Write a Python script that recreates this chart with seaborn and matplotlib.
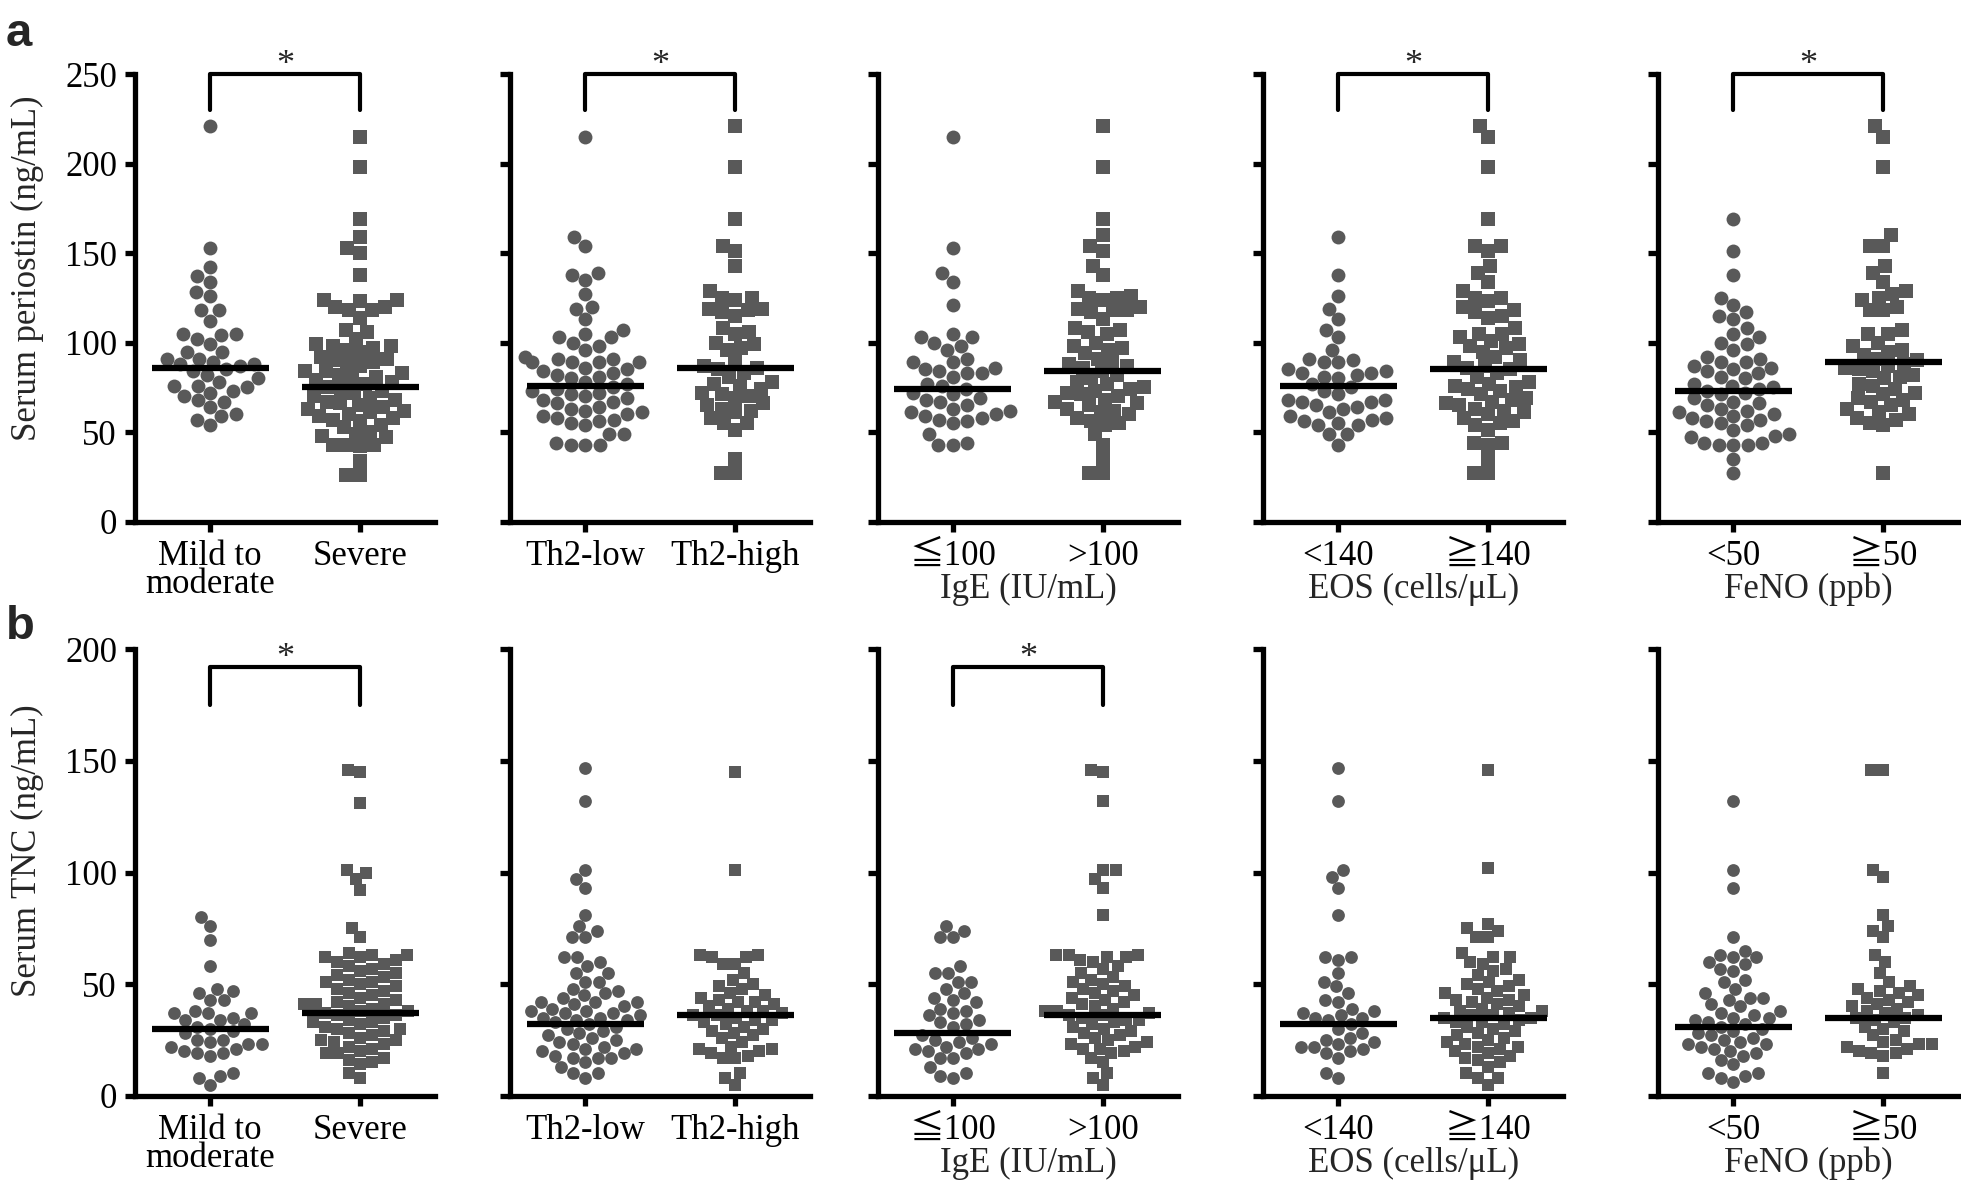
import numpy as np
import pandas as pd
import matplotlib
matplotlib.use('Agg')
import matplotlib.pyplot as plt
import seaborn as sns

sns.set_theme(style="ticks")
plt.rcParams['font.family'] = ['Liberation Serif', 'Noto Sans CJK JP', 'DejaVu Sans']

# ---- data: serum periostin (ng/mL), row a ----
a_mild = [221, 153, 142, 137, 134, 128, 126, 118, 118, 112, 105, 105, 104, 102, 99, 95, 95,
          91, 91, 89, 88, 88, 87, 85, 84, 82, 80, 78, 76, 76, 75, 73, 72, 70, 68, 67, 64,
          60, 59, 57, 54]
a_severe = [215, 198, 169, 159, 153, 150, 138, 124, 124, 123, 120, 120, 118, 118, 114, 107,
            106, 102, 99, 98, 98, 97, 96, 95, 92, 91, 90, 89, 88, 87, 84, 84, 83, 82, 81, 80,
            79, 78, 77, 75, 74, 73, 72, 70, 69, 68, 67, 66, 65, 64, 63, 62, 61, 60, 59, 58,
            57, 56, 54, 53, 50, 49, 48, 47, 43, 43, 43, 42, 34, 26, 26]
a_th2low = [215, 159, 154, 139, 138, 135, 127, 120, 119, 113, 107, 105, 103, 103, 100, 98,
            96, 92, 91, 91, 89, 89, 89, 89, 86, 85, 84, 83, 82, 81, 80, 78, 77, 75, 74, 73,
            72, 71, 70, 69, 68, 67, 66, 64, 63, 62, 61, 60, 59, 58, 57, 56, 55, 54, 49, 49,
            44, 43, 43, 43]
a_th2high = [221, 198, 169, 154, 151, 143, 129, 125, 125, 124, 119, 119, 118, 117, 115, 108,
             106, 105, 100, 99, 97, 96, 90, 87, 86, 85, 83, 81, 78, 77, 76, 74, 72, 71, 70,
             69, 66, 65, 63, 62, 61, 58, 55, 55, 51, 35, 27, 27]
a_ige_low = [215, 153, 139, 134, 121, 105, 103, 103, 100, 98, 96, 91, 89, 89, 86, 85, 84,
             83, 83, 81, 77, 76, 74, 72, 71, 69, 68, 67, 65, 63, 62, 61, 60, 59, 58, 57, 56,
             55, 49, 44, 43, 43]
a_ige_high = [221, 198, 169, 160, 154, 151, 143, 138, 129, 126, 125, 124, 125, 120, 119, 118,
              118, 117, 113, 108, 107, 106, 105, 100, 98, 97, 96, 94, 91, 89, 88, 87, 86, 84,
              82, 80, 78, 77, 75, 74, 73, 72, 71, 70, 68, 67, 66, 65, 63, 62, 61, 60, 58, 56,
              55, 54, 49, 43, 35, 27, 27]
a_eos_low = [159, 138, 126, 119, 113, 107, 103, 96, 90, 89, 89, 91, 85, 84, 83, 83, 82, 81,
             80, 77, 75, 73, 71, 68, 67, 67, 68, 65, 64, 63, 61, 59, 58, 57, 56, 55, 54, 54,
             49, 49, 43]
a_eos_high = [221, 215, 198, 169, 154, 151, 154, 143, 139, 134, 129, 125, 125, 123, 120, 118,
              117, 115, 114, 108, 105, 105, 103, 101, 99, 98, 97, 95, 92, 90, 89, 87, 86, 85,
              83, 81, 78, 77, 76, 75, 74, 73, 71, 69, 68, 67, 66, 65, 63, 62, 61, 60, 58, 56,
              55, 54, 51, 44, 43, 44, 35, 27, 27]
a_feno_low = [169, 151, 138, 125, 121, 115, 113, 117, 108, 105, 103, 100, 99, 96, 92, 89, 89,
              91, 87, 86, 85, 84, 83, 81, 80, 77, 76, 75, 74, 73, 72, 71, 69, 67, 66, 65, 63,
              62, 61, 60, 59, 58, 57, 56, 55, 54, 51, 49, 48, 47, 43, 43, 43, 44, 44, 35, 27]
a_feno_high = [221, 215, 198, 160, 154, 154, 143, 139, 134, 129, 127, 125, 124, 120, 118, 118,
               107, 105, 105, 100, 98, 96, 95, 93, 91, 90, 88, 87, 86, 85, 84, 82, 81, 80, 77,
               76, 74, 72, 71, 69, 68, 67, 65, 63, 61, 60, 58, 57, 55, 54, 27]

# ---- data: serum TNC (ng/mL), row b ----
b_mild = [80, 76, 70, 58, 48, 47, 46, 43, 43, 38, 37, 37, 37, 35, 34, 34, 32, 31, 30, 29, 28,
          25, 25, 24, 23, 23, 22, 21, 20, 19, 19, 18, 10, 9, 8, 5]
b_severe = [146, 145, 131, 101, 100, 97, 92, 75, 71, 64, 63, 63, 62, 62, 61, 60, 59, 58, 57,
            56, 55, 54, 53, 52, 51, 51, 50, 49, 48, 47, 46, 45, 44, 43, 42, 41, 41, 41, 40, 39,
            38, 38, 37, 36, 36, 35, 34, 33, 33, 32, 31, 30, 30, 29, 28, 27, 26, 25, 25, 24,
            23, 22, 21, 20, 19, 19, 17, 16, 15, 14, 10, 8]
b_th2low = [147, 132, 101, 97, 93, 81, 76, 74, 71, 71, 62, 62, 60, 58, 55, 55, 51, 51, 48, 47,
            46, 45, 44, 42, 42, 42, 41, 40, 39, 38, 38, 37, 37, 36, 35, 35, 34, 34, 33, 32, 31,
            30, 29, 28, 27, 26, 25, 24, 23, 22, 21, 21, 20, 19, 18, 17, 17, 17, 15, 13, 10, 10, 8]
b_th2high = [145, 101, 63, 62, 62, 63, 59, 59, 55, 52, 50, 49, 48, 46, 45, 44, 43, 42, 42, 41,
             40, 39, 38, 38, 37, 36, 36, 35, 34, 34, 33, 32, 31, 30, 29, 28, 27, 26, 24, 22,
             21, 21, 20, 19, 18, 17, 17, 10, 8, 5]
b_ige_low = [76, 74, 71, 71, 58, 55, 55, 51, 51, 48, 46, 44, 43, 42, 39, 38, 37, 36, 34, 33,
             32, 31, 27, 26, 25, 24, 23, 22, 21, 21, 20, 19, 17, 17, 13, 10, 9, 8]
b_ige_high = [146, 145, 132, 101, 101, 97, 93, 81, 63, 63, 63, 62, 62, 61, 60, 58, 57, 55, 53,
              52, 51, 50, 49, 48, 47, 46, 45, 44, 43, 42, 41, 40, 39, 38, 38, 37, 36, 36, 35,
              34, 34, 33, 32, 31, 30, 29, 28, 27, 26, 25, 24, 23, 22, 21, 21, 20, 19, 17, 15,
              10, 8, 5]
b_eos_low = [147, 132, 101, 98, 93, 81, 62, 61, 62, 55, 51, 49, 46, 43, 42, 39, 38, 37, 36,
             35, 35, 34, 32, 30, 28, 26, 25, 24, 23, 22, 22, 21, 20, 19, 17, 10, 8]
b_eos_high = [146, 102, 77, 74, 71, 71, 75, 64, 62, 62, 60, 59, 57, 56, 54, 52, 51, 50, 49, 48,
              47, 46, 45, 44, 43, 43, 42, 41, 40, 39, 38, 38, 37, 36, 36, 35, 35, 34, 33, 33,
              32, 31, 30, 29, 28, 27, 26, 25, 24, 23, 22, 22, 21, 20, 19, 18, 17, 16, 15, 13,
              10, 8, 8, 5]
b_feno_low = [132, 101, 93, 71, 65, 63, 62, 62, 60, 59, 57, 56, 52, 51, 48, 46, 44, 44, 43,
              41, 40, 38, 37, 36, 35, 35, 34, 33, 32, 31, 30, 29, 28, 27, 26, 25, 24, 23, 23,
              22, 21, 20, 19, 18, 16, 14, 10, 10, 9, 8, 6]
b_feno_high = [146, 146, 101, 98, 81, 76, 74, 71, 63, 60, 55, 51, 49, 48, 47, 46, 45, 44, 43,
               42, 41, 40, 39, 38, 37, 36, 35, 35, 34, 33, 31, 30, 29, 27, 25, 24, 23, 23, 22,
               21, 20, 19, 19, 18, 10]

categories = [["Mild to\nmoderate", "Severe"], ["Th2-low", "Th2-high"],
              ["≦100", ">100"], ["<140", "≧140"], ["<50", "≧50"]]
group_titles = ["", "", "IgE (IU/mL)", "EOS (cells/μL)", "FeNO (ppb)"]
top_groups = [(a_mild, a_severe), (a_th2low, a_th2high), (a_ige_low, a_ige_high),
              (a_eos_low, a_eos_high), (a_feno_low, a_feno_high)]
bottom_groups = [(b_mild, b_severe), (b_th2low, b_th2high), (b_ige_low, b_ige_high),
                 (b_eos_low, b_eos_high), (b_feno_low, b_feno_high)]
# central horizontal bars
top_lines = [(86, 75), (76, 86), (74, 84), (76, 85), (73, 89)]
bottom_lines = [(30, 37), (32, 36), (28, 36), (32, 35), (31, 35)]
top_sig = [True, True, False, True, True]
bottom_sig = [True, False, True, False, False]

gray = "#595959"
fs = 25
fig = plt.figure(figsize=(19.61, 11.87), dpi=100)
lefts = [0.0689, 0.2602, 0.4477, 0.6441, 0.8457]
rows = [
    dict(bottom=0.5606, height=0.377, groups=top_groups, lines=top_lines, sig=top_sig,
         ymax=250, ylabel="Serum periostin (ng/mL)", bracket=(230, 250), label_y=0.565,
         sizes=(10, 9.5)),
    dict(bottom=0.0769, height=0.376, groups=bottom_groups, lines=bottom_lines, sig=bottom_sig,
         ymax=200, ylabel="Serum TNC (ng/mL)", bracket=(175, 192), label_y=0.55,
         sizes=(9.2, 8.6)),
]

for r, row in enumerate(rows):
    for p in range(5):
        ax = fig.add_axes([lefts[p], row["bottom"], 0.153, row["height"]])
        cats = categories[p]
        g0, g1 = row["groups"][p]
        df0 = pd.DataFrame({"grp": [cats[0]] * len(g0), "val": g0})
        df1 = pd.DataFrame({"grp": [cats[1]] * len(g1), "val": g1})
        sns.swarmplot(data=df0, x="grp", y="val", order=cats, marker="o", color=gray,
                      size=row["sizes"][0], linewidth=0, ax=ax, warn_thresh=1)
        sns.swarmplot(data=df1, x="grp", y="val", order=cats, marker="s", color=gray,
                      size=row["sizes"][1], linewidth=0, ax=ax, warn_thresh=1)
        for i, v in enumerate(row["lines"][p]):
            ax.hlines(v, i - 0.39, i + 0.39, color="black", lw=4.5, zorder=5)
        ax.set_xlim(-0.5, 1.5)
        ax.set_ylim(0, row["ymax"])
        ax.set_yticks(np.arange(0, row["ymax"] + 1, 50))
        for side in ["top", "right"]:
            ax.spines[side].set_visible(False)
        for side in ["left", "bottom"]:
            ax.spines[side].set_linewidth(3.8)
            ax.spines[side].set_color("black")
        ax.tick_params(direction="out", length=7, width=3.8, labelsize=fs, pad=6,
                       colors="black")
        ax.set_xticks([0, 1])
        ax.set_xticklabels(cats, linespacing=0.8)
        ax.set_xlabel(group_titles[p], fontsize=fs, labelpad=0)
        if p == 0:
            ax.set_ylabel(row["ylabel"], fontsize=fs)
            ax.yaxis.set_label_coords(-0.305, row["label_y"])
        else:
            ax.set_yticklabels([])
            ax.set_ylabel("")
        if row["sig"][p]:
            lo, hi = row["bracket"]
            ax.plot([0, 0, 1, 1], [lo, hi, hi, lo], color="black", lw=3, clip_on=False)
            ax.text(0.5, hi - row["ymax"] * 0.018, "*", ha="center", va="bottom",
                    fontsize=26, clip_on=False)

fig.text(0.003, 0.99, "a", fontsize=34, fontweight="bold", family="Liberation Sans",
         va="top", ha="left")
fig.text(0.003, 0.49, "b", fontsize=34, fontweight="bold", family="Liberation Sans",
         va="top", ha="left")

plt.savefig("out.png", dpi=100)
